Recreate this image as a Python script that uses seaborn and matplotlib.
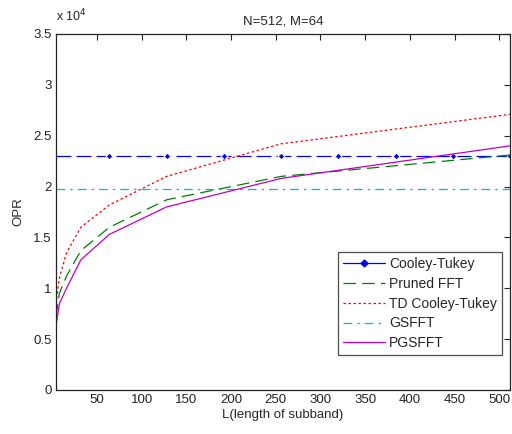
import matplotlib
matplotlib.use("Agg")
import matplotlib.pyplot as plt
import seaborn as sns
import numpy as np
import pandas as pd
from matplotlib.lines import Line2D
from matplotlib.ticker import FuncFormatter, MultipleLocator

sns.set_style("white")
plt.rcParams['font.family'] = ['Liberation Sans', 'DejaVu Sans']

# Data (OPR values)
L_vals = [4, 8, 16, 32, 64, 128, 256, 512]
pruned_fft = [7200, 9500, 11200, 13700, 16000, 18700, 21000, 23100]
td_cooley = [8500, 11000, 13500, 16000, 18200, 21000, 24200, 27100]
pgsfft = [6200, 8500, 10000, 12800, 15300, 18000, 20800, 24000]

L_ct = [4, 64, 128, 192, 256, 320, 384, 448, 512]
cooley_tukey = [23040] * len(L_ct)
L_gs = [4, 512]
gsfft = [19800, 19800]

title = "N=512, M=64"
xlabel = "L(length of subband)"
ylabel = "OPR"
x_ticks = [50, 100, 150, 200, 250, 300, 350, 400, 450, 500]
y_ticks = [0, 5000, 10000, 15000, 20000, 25000, 30000, 35000]

fig = plt.figure(figsize=(5.12, 4.34), dpi=100)
ax = fig.add_axes([0.109, 0.1014, 0.887, 0.8203])

c_blue = (0, 0, 1)
c_green = (0, 0.5, 0)
c_red = (1, 0, 0)
c_cyan = (0, 0.75, 0.75)
c_purple = (0.75, 0, 0.75)

sns.lineplot(x=L_ct, y=cooley_tukey, ax=ax, color=c_blue, linewidth=0.9,
             marker='D', markersize=3.5, markevery=list(range(1, len(L_ct))),
             dashes=False, linestyle=(0, (12, 4)))
sns.lineplot(x=L_vals, y=pruned_fft, ax=ax, color=c_green, linewidth=0.9,
             linestyle=(0, (10, 5)))
sns.lineplot(x=L_vals, y=td_cooley, ax=ax, color=c_red, linewidth=0.9,
             linestyle=(0, (2, 2)))
sns.lineplot(x=L_gs, y=gsfft, ax=ax, color=c_cyan, linewidth=0.9,
             linestyle=(0, (7, 4, 2, 4)))
sns.lineplot(x=L_vals, y=pgsfft, ax=ax, color=c_purple, linewidth=0.9)

ax.set_xlim(4, 512)
ax.set_ylim(0, 35000)
ax.set_xticks(x_ticks)
ax.set_yticks(y_ticks)
ax.yaxis.set_major_formatter(FuncFormatter(lambda v, p: f"{v/1e4:g}"))
ax.tick_params(direction='in', length=4, width=0.8, top=True, right=True,
               labelsize=9.5, colors='#222222', pad=3)
for s in ax.spines.values():
    s.set_linewidth(0.9)
    s.set_color('#222222')

ax.set_title(title, fontsize=9.5, pad=7)
ax.set_xlabel(xlabel, fontsize=9.5, labelpad=2)
ax.set_ylabel(ylabel, fontsize=9.5, labelpad=6)
fig.text(0.109, 0.945, r"x 10$^4$", fontsize=9, ha='left', va='bottom')

handles = [
    Line2D([], [], color=c_blue, lw=0.9, marker='D', markersize=3.5),
    Line2D([], [], color=c_green, lw=0.9, linestyle=(0, (10, 5))),
    Line2D([], [], color=c_red, lw=0.9, linestyle=(0, (2, 2))),
    Line2D([], [], color=c_cyan, lw=0.9, linestyle=(0, (7, 4, 2, 4))),
    Line2D([], [], color=c_purple, lw=0.9),
]
labels = ["Cooley-Tukey", "Pruned FFT", "TD Cooley-Tukey", "GSFFT", "PGSFFT"]
leg = ax.legend(handles, labels, loc='lower right', bbox_to_anchor=(0.982, 0.098),
                fontsize=10, frameon=True, fancybox=False, edgecolor='#222222',
                handlelength=3.0, handletextpad=0.3, labelspacing=0.42,
                borderpad=0.35, borderaxespad=0)
leg.get_frame().set_linewidth(0.9)

fig.savefig("out.png", dpi=100)
